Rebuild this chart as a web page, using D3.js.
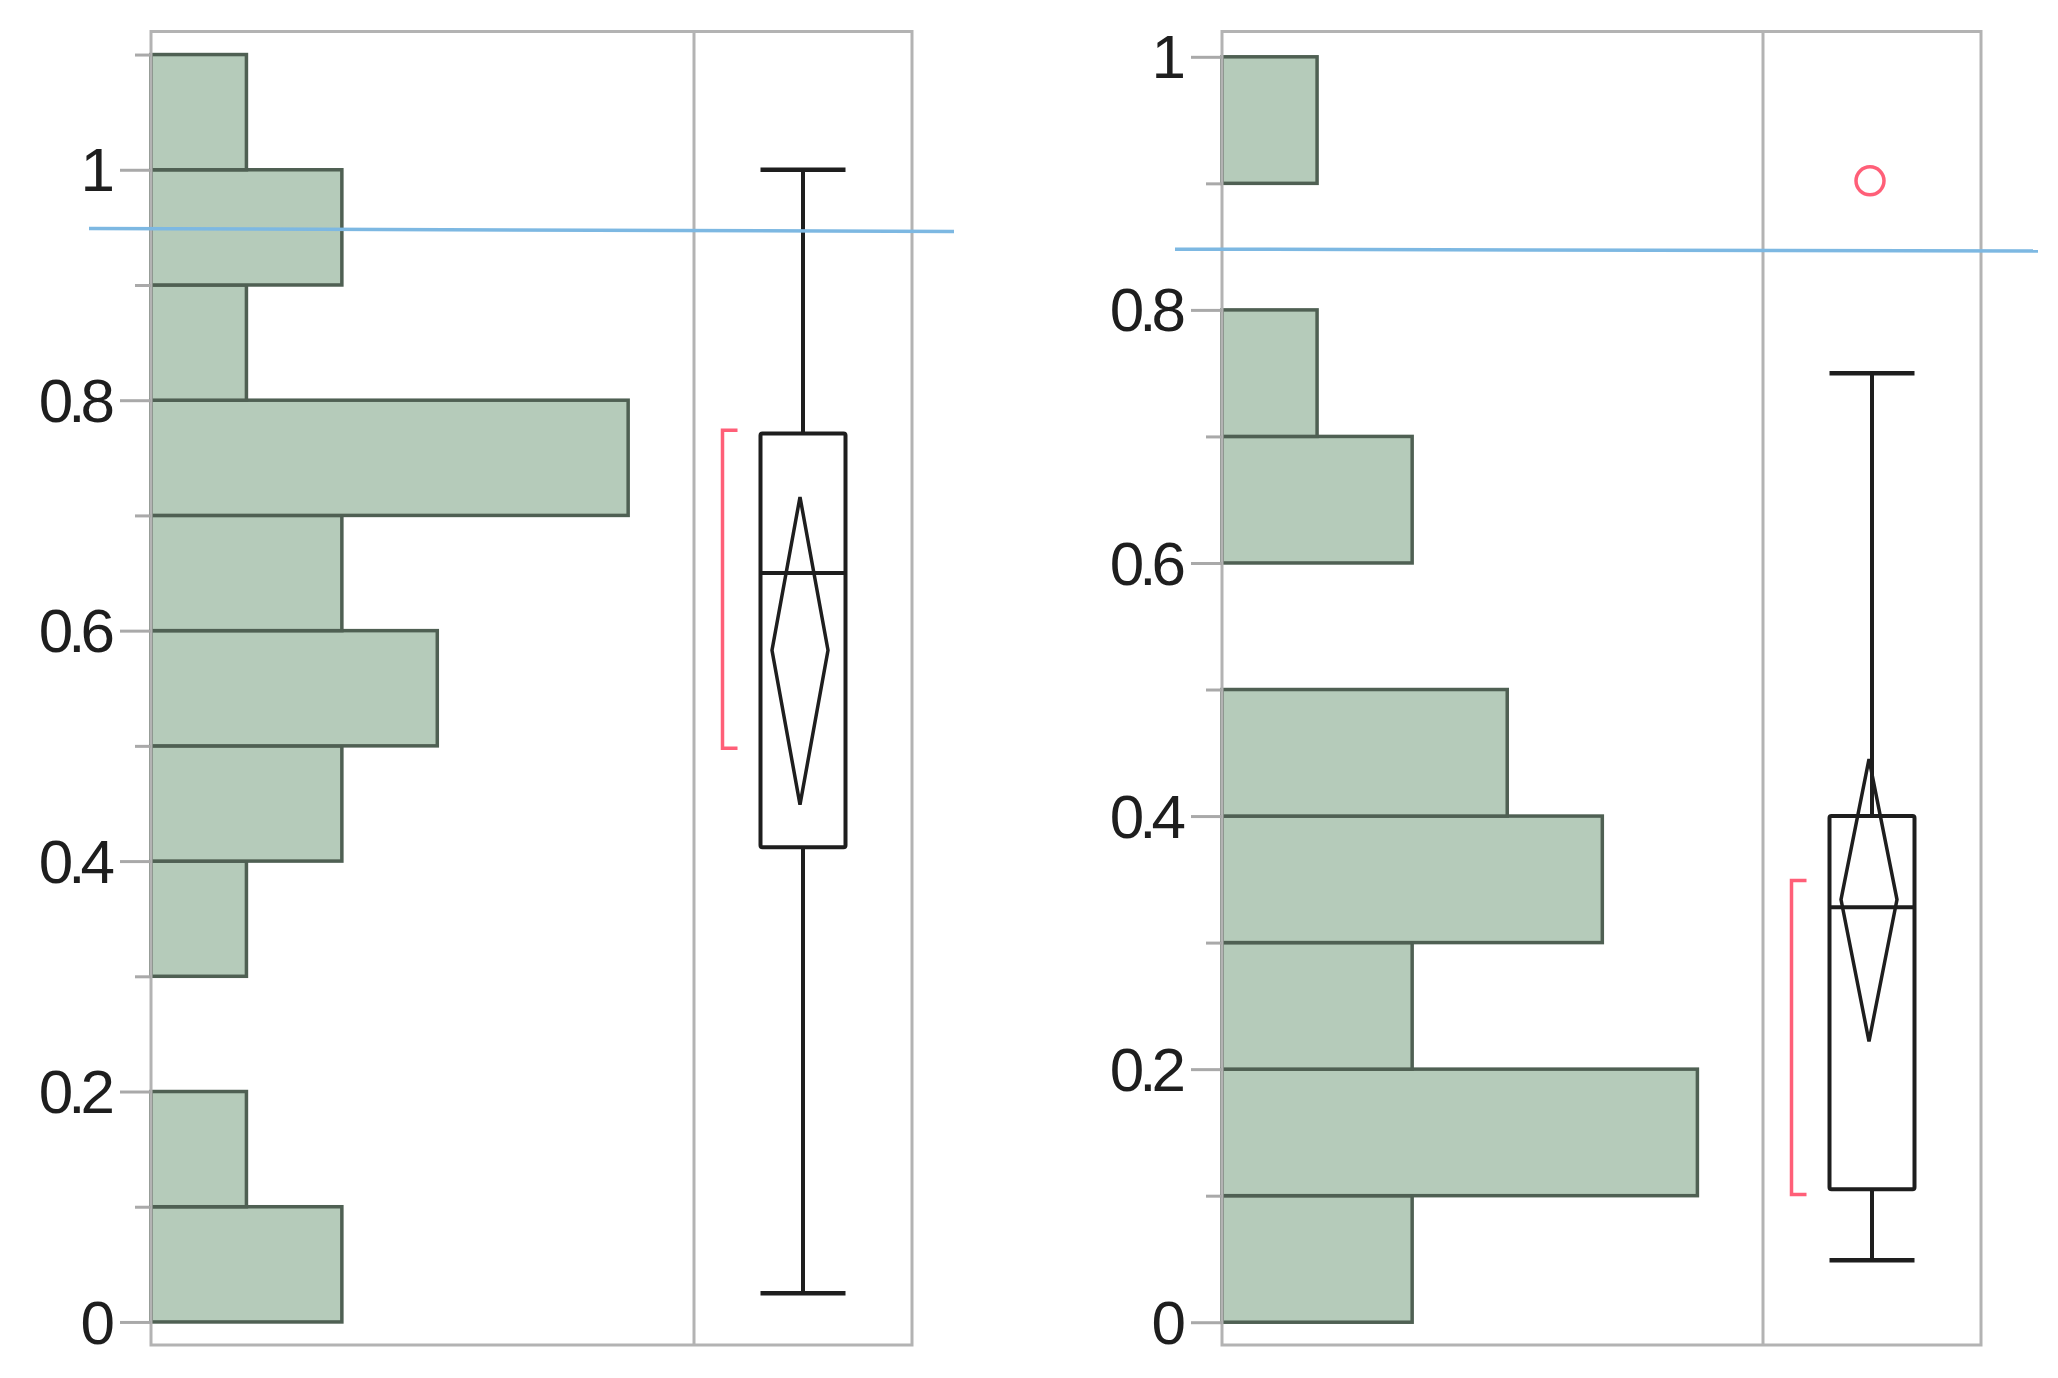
<!DOCTYPE html>
<html>
<head>
<meta charset="utf-8">
<script src="https://cdn.jsdelivr.net/npm/d3@7"></script>
<style>
  html, body { margin: 0; padding: 0; background: #ffffff; }
  svg { display: block; }
  .tick text { font-family: "Liberation Sans", Arial, sans-serif; }
</style>
</head>
<body>
<script>
// ---------------- data ----------------
const binWidth = 0.1;
const leftBinStarts  = [0, 0.1, 0.2, 0.3, 0.4, 0.5, 0.6, 0.7, 0.8, 0.9, 1.0];
const leftCounts     = [2, 1, 0, 1, 2, 3, 2, 5, 1, 2, 1];
const rightBinStarts = [0, 0.1, 0.2, 0.3, 0.4, 0.5, 0.6, 0.7, 0.8, 0.9];
const rightCounts    = [2, 5, 2, 4, 3, 0, 2, 1, 0, 1];

// box stats: [min whisker, q1, median, q3, max whisker]
const leftBoxStats  = [0.025, 0.412, 0.650, 0.771, 1.0];
const rightBoxStats = [0.049, 0.105, 0.328, 0.400, 0.750];
// mean diamond: [lower CI, mean, upper CI]
const leftMeanDiamond  = [0.449, 0.583, 0.716];
const rightMeanDiamond = [0.222, 0.334, 0.445];
// shortest half bracket: [low, high]
const leftShortestHalf  = [0.498, 0.774];
const rightShortestHalf = [0.101, 0.349];
// outliers
const leftOutliers  = [];
const rightOutliers = [0.902];
// blue reference line: [value at left end, value at right end]
const leftRefLine  = [0.949, 0.9465];
const rightRefLine = [0.848, 0.8465];

// axis ticks
const leftMajorTicks  = [0, 0.2, 0.4, 0.6, 0.8, 1.0];
const leftMinorTicks  = [0.1, 0.3, 0.5, 0.7, 0.9, 1.1];
const rightMajorTicks = [0, 0.2, 0.4, 0.6, 0.8, 1.0];
const rightMinorTicks = [0.1, 0.3, 0.5, 0.7, 0.9];
const leftYDomain  = [-0.02, 1.12];
const rightYDomain = [-0.018, 1.02];
const countDomain  = [0, 5.69];

// ---------------- drawing ----------------
const W = 2058, H = 1378;
const svg = d3.select("body").append("svg").attr("width", W).attr("height", H);
svg.append("rect").attr("width", W).attr("height", H).attr("fill", "#ffffff");

const COLORS = {
  barFill: "#b5cbba", barStroke: "#4f6053", frame: "#b3b3b3", tick: "#a9a9a9",
  box: "#1e1e1e", red: "#ff5f78", blue: "#7db8e2", text: "#1e1e1e"
};

function drawPanel(cfg) {
  const y = d3.scaleLinear().domain(cfg.yDomain).range([cfg.y1, cfg.y0]);
  const x = d3.scaleLinear().domain(countDomain).range([cfg.x0, cfg.divider]);
  const g = svg.append("g");

  // histogram bars
  const bins = cfg.binStarts.map((s, i) => ({ lo: s, hi: s + binWidth, n: cfg.counts[i] }))
    .filter(d => d.n > 0);
  g.selectAll("rect.bar").data(bins).enter().append("rect")
    .attr("class", "bar")
    .attr("x", x(0))
    .attr("y", d => y(d.hi))
    .attr("width", d => x(d.n) - x(0))
    .attr("height", d => y(d.lo) - y(d.hi))
    .attr("fill", COLORS.barFill)
    .attr("stroke", COLORS.barStroke)
    .attr("stroke-width", 3.5);

  // frame + divider
  g.append("rect")
    .attr("x", cfg.x0).attr("y", cfg.y0)
    .attr("width", cfg.x1 - cfg.x0).attr("height", cfg.y1 - cfg.y0)
    .attr("fill", "none").attr("stroke", COLORS.frame).attr("stroke-width", 3);
  g.append("line")
    .attr("x1", cfg.divider).attr("x2", cfg.divider)
    .attr("y1", cfg.y0).attr("y2", cfg.y1)
    .attr("stroke", COLORS.frame).attr("stroke-width", 3);

  // axes
  const major = g.append("g").attr("transform", `translate(${cfg.x0},0)`)
    .call(d3.axisLeft(y).tickValues(cfg.majorTicks).tickSize(31).tickPadding(10)
      .tickFormat(d3.format("~g")));
  const minor = g.append("g").attr("transform", `translate(${cfg.x0},0)`)
    .call(d3.axisLeft(y).tickValues(cfg.minorTicks).tickSize(16).tickFormat(""));
  [major, minor].forEach(a => {
    a.select(".domain").remove();
    a.selectAll(".tick line").attr("stroke", COLORS.tick).attr("stroke-width", 3);
  });
  major.selectAll(".tick text")
    .attr("fill", COLORS.text)
    .attr("font-size", 62)
    .attr("letter-spacing", "-5px")
    .attr("dy", "0.34em");

  // box plot
  const [wMin, q1, med, q3, wMax] = cfg.box;
  const bc = cfg.boxCenter, bw = 85;
  const bx = g.append("g").attr("fill", "none").attr("stroke", COLORS.box).attr("stroke-width", 4);
  // whiskers
  bx.append("line").attr("x1", bc).attr("x2", bc).attr("y1", y(q3)).attr("y2", y(wMax));
  bx.append("line").attr("x1", bc).attr("x2", bc).attr("y1", y(q1)).attr("y2", y(wMin));
  bx.append("line").attr("x1", bc - bw / 2).attr("x2", bc + bw / 2).attr("y1", y(wMax)).attr("y2", y(wMax)).attr("stroke-width", 4.5);
  bx.append("line").attr("x1", bc - bw / 2).attr("x2", bc + bw / 2).attr("y1", y(wMin)).attr("y2", y(wMin)).attr("stroke-width", 4.5);
  // box
  bx.append("rect").attr("x", bc - bw / 2).attr("y", y(q3))
    .attr("width", bw).attr("height", y(q1) - y(q3)).attr("rx", 2);
  bx.append("line").attr("x1", bc - bw / 2).attr("x2", bc + bw / 2).attr("y1", y(med)).attr("y2", y(med));
  // mean diamond
  const [dLo, dMean, dHi] = cfg.diamond;
  const dc = bc - 3, dw = 28;
  bx.append("path")
    .attr("d", d3.line()([[dc, y(dHi)], [dc + dw, y(dMean)], [dc, y(dLo)], [dc - dw, y(dMean)]]) + "Z")
    .attr("stroke-width", 3.5).attr("stroke-linejoin", "miter");

  // shortest half bracket
  const [sLo, sHi] = cfg.shortHalf;
  const brX = bc - bw / 2 - 38, brW = 15;
  g.append("path")
    .attr("d", d3.line()([[brX + brW, y(sHi)], [brX, y(sHi)], [brX, y(sLo)], [brX + brW, y(sLo)]]))
    .attr("fill", "none").attr("stroke", COLORS.red).attr("stroke-width", 3.5);

  // outliers
  g.selectAll("circle.out").data(cfg.outliers).enter().append("circle")
    .attr("class", "out")
    .attr("cx", bc - 2).attr("cy", d => y(d)).attr("r", 14)
    .attr("fill", "none").attr("stroke", COLORS.red).attr("stroke-width", 3.5);

  // blue reference line
  g.append("line")
    .attr("x1", cfg.refX0).attr("x2", cfg.refX1)
    .attr("y1", y(cfg.refLine[0])).attr("y2", y(cfg.refLine[1]))
    .attr("stroke", COLORS.blue).attr("stroke-width", 3.5);
}

drawPanel({
  x0: 151, x1: 912, divider: 694, y0: 31.5, y1: 1345,
  yDomain: leftYDomain, binStarts: leftBinStarts, counts: leftCounts,
  majorTicks: leftMajorTicks, minorTicks: leftMinorTicks,
  box: leftBoxStats, diamond: leftMeanDiamond, shortHalf: leftShortestHalf,
  outliers: leftOutliers, refLine: leftRefLine, boxCenter: 803,
  refX0: 89, refX1: 954
});
drawPanel({
  x0: 1222, x1: 1981, divider: 1763, y0: 31.5, y1: 1345,
  yDomain: rightYDomain, binStarts: rightBinStarts, counts: rightCounts,
  majorTicks: rightMajorTicks, minorTicks: rightMinorTicks,
  box: rightBoxStats, diamond: rightMeanDiamond, shortHalf: rightShortestHalf,
  outliers: rightOutliers, refLine: rightRefLine, boxCenter: 1872,
  refX0: 1175, refX1: 2038
});
</script>
</body>
</html>
